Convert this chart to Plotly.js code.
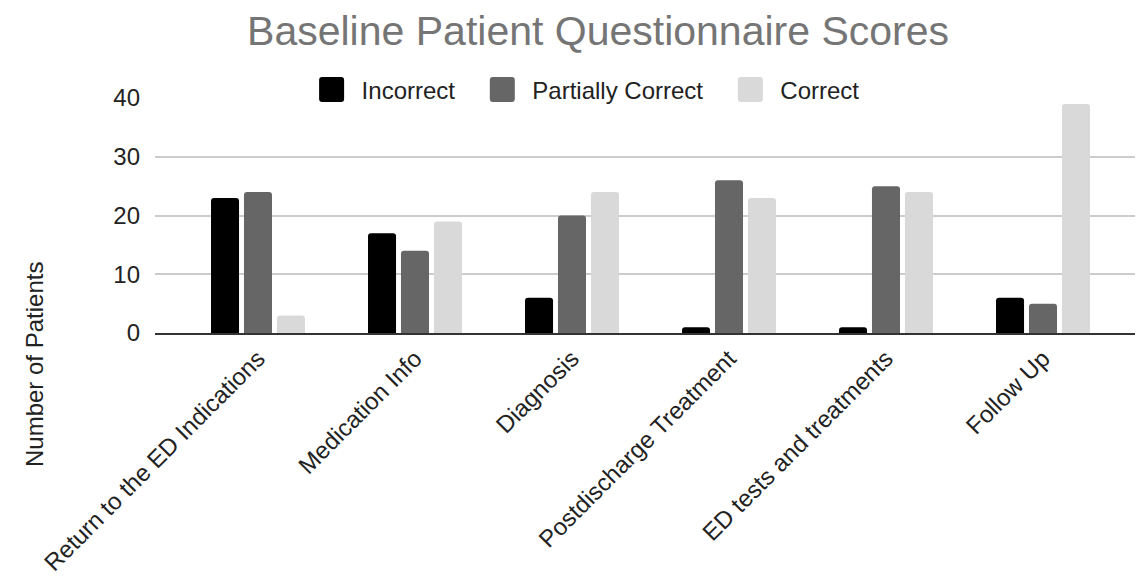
<!DOCTYPE html>
<html>
<head>
<meta charset="utf-8">
<script src="https://cdn.plot.ly/plotly-3.0.1.min.js"></script>
<style>html,body{margin:0;padding:0;background:#fff;}#chart{width:1137px;height:581px;}</style>
</head>
<body>
<div id="chart"></div>
<script>
const categories = ["Return to the ED Indications", "Medication Info", "Diagnosis", "Postdischarge Treatment", "ED tests and treatments", "Follow Up"];
const incorrect = [23, 17, 6, 1, 1, 6];
const partiallyCorrect = [24, 14, 20, 26, 25, 5];
const correct = [3, 19, 24, 23, 24, 39];
const seriesNames = ["Incorrect", "Partially Correct", "Correct"];
const yTicks = [0, 10, 20, 30, 40];

const colors = ["#000000", "#666666", "#d9d9d9"];
const allSeries = [incorrect, partiallyCorrect, correct];
const traces = allSeries.map((vals, i) => ({
  type: "bar",
  name: seriesNames[i],
  x: categories,
  y: vals,
  marker: {color: colors[i], line: {width: 0}},
  hoverinfo: "x+y+name"
}));

const layout = {
  width: 1137, height: 581,
  paper_bgcolor: "#ffffff", plot_bgcolor: "#ffffff",
  margin: {l: 155, r: 2, t: 98, b: 248},
  font: {family: "Liberation Sans, Arial, sans-serif", color: "#222222", size: 24},
  title: {text: "Baseline Patient Questionnaire Scores", font: {size: 41, color: "#757575"}, xref: "container", x: 0.526, xanchor: "center", yref: "container", y: 0.948, yanchor: "middle"},
  barmode: "group",
  bargap: 0.37,
  bargroupgap: 0.15,
  barcornerradius: 3,
  showlegend: true,
  legend: {orientation: "h", x: 0.4144, xanchor: "center", y: 1.034, yanchor: "middle", font: {size: 24, color: "#222"}, bgcolor: "rgba(0,0,0,0)", itemwidth: 30},
  xaxis: {type: "category", range: [-0.656, 5.586], tickangle: -45, showgrid: false, showline: true, linecolor: "#333333", linewidth: 2, ticks: "", tickfont: {size: 24, color: "#222"}, zeroline: false},
  yaxis: {range: [0, 40], tickvals: yTicks, ticktext: yTicks.map(String), showgrid: true, gridcolor: "#cccccc", gridwidth: 2, zeroline: false, showline: false, ticks: "", ticklabelstandoff: 14, tickfont: {size: 24, color: "#222"}},
  annotations: [{text: "Number of Patients", xref: "paper", yref: "paper", x: -0.1224, y: -0.136, textangle: -90, showarrow: false, font: {size: 24, color: "#222"}, xanchor: "center", yanchor: "middle"}]
};

function styleLegend() {
  const root = document.querySelector("#chart .legend");
  if (!root || root.dataset.styled) return;
  root.dataset.styled = "1";
  root.querySelectorAll("[clip-path]").forEach(e => e.removeAttribute("clip-path"));
  root.querySelectorAll(".legendpoints path").forEach(p => {
    p.setAttribute("d", "M-19.5,-12.5H-0.5A3,3 0 0 1 2.5,-9.5V9.5A3,3 0 0 1 -0.5,12.5H-19.5A3,3 0 0 1 -22.5,9.5V-9.5A3,3 0 0 1 -19.5,-12.5Z");
  });
  root.querySelectorAll(".traces").forEach((g, i) => {
    const t = g.getAttribute("transform") || "";
    const m = t.match(/translate\(\s*([-\d.]+)[ ,]+([-\d.]+)\s*\)/);
    if (m) g.setAttribute("transform", "translate(" + (parseFloat(m[1]) + 32 * i) + "," + m[2] + ")");
  });
}

Plotly.newPlot("chart", traces, layout, {displayModeBar: false, staticPlot: true}).then(gd => {
  styleLegend();
});
</script>
</body>
</html>
